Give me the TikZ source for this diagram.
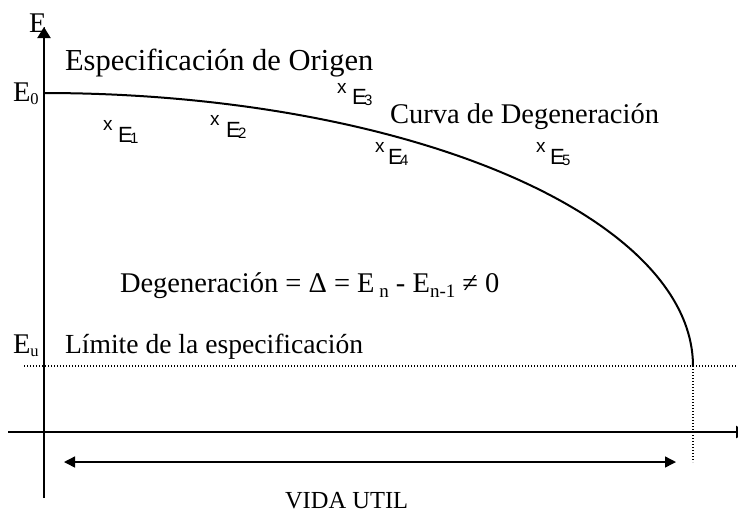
\documentclass[tikz,border=0pt]{standalone}
\usepackage{fontspec}
\setmainfont{Liberation Serif}
\newfontfamily\lsans{Liberation Sans}
\usetikzlibrary{arrows.meta}
\newcommand{\serifsub}[1]{\raisebox{-3pt}{\fontsize{16.5}{17}\selectfont #1}}
\newcommand{\fsub}[1]{\raisebox{-5pt}{\fontsize{19}{20}\selectfont #1}}
\newcommand{\ssub}[1]{\kern-2.5pt\raisebox{-1pt}{\fontsize{15}{15}\selectfont #1}}
\begin{document}
\begin{tikzpicture}[x=1pt,y=-1pt,
  txt/.style={inner sep=0pt, outer sep=0pt, anchor=base west, font=\fontsize{28.5}{30}\selectfont},
  xmark/.style={inner sep=0pt, outer sep=0pt, anchor=base west, font=\lsans\fontsize{19}{19}\selectfont},
  elab/.style={inner sep=0pt, outer sep=0pt, anchor=base west, font=\lsans\fontsize{22}{22}\selectfont},
  axis/.style={line width=2pt},
  dotline/.style={line width=1.3pt, dash pattern=on 1.3pt off 1.7pt}]
\useasboundingbox (0,0) rectangle (738,515);
% axes
\coordinate (ybot) at (44,498);
\coordinate (ytop) at (44,27);
\coordinate (xl) at (8,432);
\coordinate (xr) at (748,432);
\draw[axis,-{Triangle[length=11pt,width=13pt]}] (ybot) -- (ytop);
\draw[axis,-{Triangle[length=12pt,width=12pt]}] (xl) -- (xr);
% dotted limit lines
\coordinate (dl) at (24,366);
\coordinate (dr) at (738,366);
\coordinate (dv1) at (693,366);
\coordinate (dv2) at (693,462);
\draw[dotline] (dl) -- (dr);
\draw[dotline] (dv1) -- (dv2);
% degeneration curve (quarter ellipse)
\draw[line width=2pt] plot[domain=0:90, samples=120, smooth] ({44+649*sin(\x)}, {366-273*cos(\x)});
% vida util arrow
\coordinate (vl) at (64,462);
\coordinate (vr) at (676,462);
\draw[line width=1.4pt,{Triangle[length=11pt,width=11pt]}-{Triangle[length=11pt,width=11pt]}] (vl) -- (vr);
% serif texts
\node[txt] (E) at (29,32) {E};
\node[txt] (E0) at (13,101) {E\serifsub{0}};
\node[txt] (Eu) at (13,353) {E\serifsub{u}};
\node[txt, font=\fontsize{30.5}{32}\selectfont] (orig) at (65,70) {Especificación de Origen};
\node[txt] (curva) at (390,123) {Curva de Degeneración};
\node[txt] (form) at (120,292) {Degeneración = Δ = E\,\fsub{n} - E\fsub{n-1} ≠ 0};
\node[txt, font=\fontsize{27.6}{29}\selectfont] (lim) at (65,353) {Límite de la especificación};
\node[txt, font=\fontsize{24.5}{26}\selectfont] (vida) at (285,508) {VIDA UTIL};
% measurements
\node[xmark] (x1) at (103,130) {x};
\node[elab] (e1) at (118,142) {E\ssub{1}};
\node[xmark] (x2) at (210,125) {x};
\node[elab] (e2) at (226,137) {E\ssub{2}};
\node[xmark] (x3) at (337,93) {x};
\node[elab] (e3) at (352,104) {E\ssub{3}};
\node[xmark] (x4) at (375,152) {x};
\node[elab] (e4) at (388,164) {E\ssub{4}};
\node[xmark] (x5) at (536,152) {x};
\node[elab] (e5) at (550,164) {E\ssub{5}};
\end{tikzpicture}
\end{document}
